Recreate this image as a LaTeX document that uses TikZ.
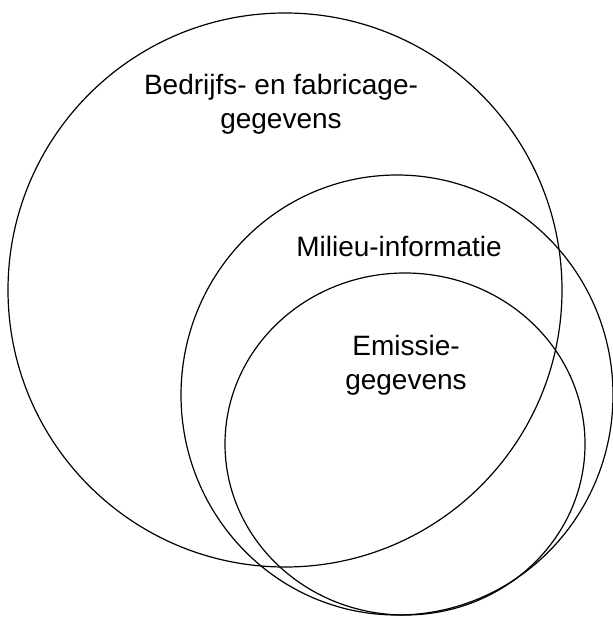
\documentclass[tikz,border=0pt]{standalone}
\usepackage{fontspec}
\setmainfont{Liberation Sans}
\usepackage{tikz}

\begin{document}
\begin{tikzpicture}[x=0.5pt, y=-0.5pt, line width=0.6pt,
  every node/.style={font=\fontsize{14}{16.8}\selectfont, align=center}]

% Rand van de figuur
\useasboundingbox (0,0) rectangle (613,619);

% Bedrijfs- en fabricagegegevens (grote cirkel)
\draw (285,290) ellipse [x radius=277, y radius=277];

% Milieu-informatie
\draw (397,395) ellipse [x radius=216, y radius=220];

% Emissiegegevens
\draw (405,444) ellipse [x radius=180, y radius=171];

% Labels
\node (bedrijf) at (281,104) {Bedrijfs- en fabricage-\\gegevens};
\node (milieu) at (399,246) {Milieu-informatie};
\node (emissie) at (406,365) {Emissie-\\gegevens};

\end{tikzpicture}
\end{document}
